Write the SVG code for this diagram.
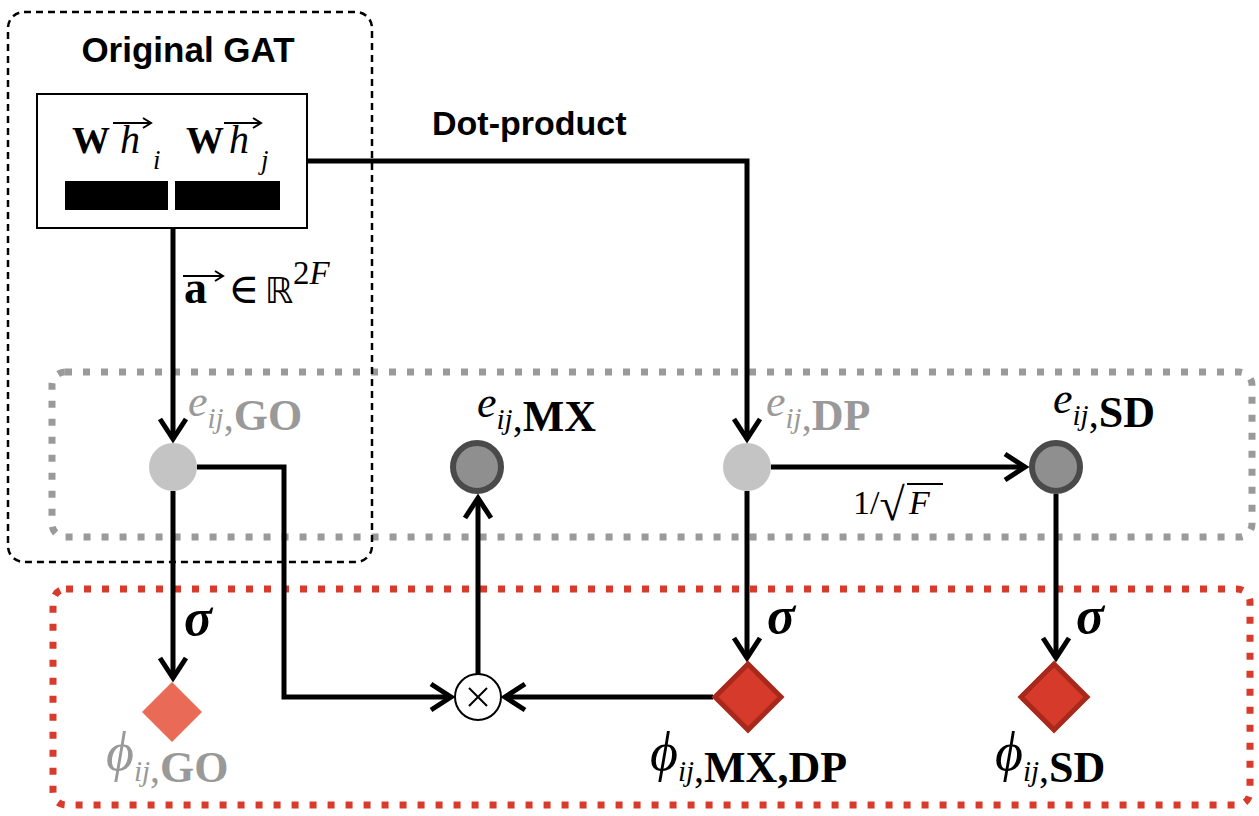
<svg xmlns="http://www.w3.org/2000/svg" width="1259" height="816" viewBox="0 0 1259 816">
<style>
.sans{font-family:"Liberation Sans",Arial,sans-serif;font-weight:bold}
.ser{font-family:"Liberation Serif","DejaVu Serif",serif}
.it{font-style:italic}
.bd{font-weight:bold}
.nb{font-weight:normal}
.conn{fill:none;stroke:#000;stroke-width:5}
.gray{fill:#999}
.blk{fill:#000}
</style>
<defs>
<marker id="ah" markerUnits="userSpaceOnUse" markerWidth="40" markerHeight="40" viewBox="-30 -20 40 40" refX="0" refY="0" orient="auto" overflow="visible">
<path d="M-20,-13 L0,0 L-20,13" fill="none" stroke="#000" stroke-width="5"/>
</marker>
</defs>
<rect width="1259" height="816" fill="#fff"/>

<g id="group-gray">
<rect x="52" y="372" width="1200" height="165" rx="13" fill="none" stroke="#9a9a9a" stroke-width="7" stroke-dasharray="7 11"/>
</g>
<g id="group-red">
<rect x="53" y="589" width="1197" height="216" rx="13" fill="none" stroke="#d83b2b" stroke-width="7" stroke-dasharray="7 11"/>
</g>
<g id="group-gat">
<rect x="8" y="12" width="364" height="550" rx="16" fill="none" stroke="#000" stroke-width="2.5" stroke-dasharray="7 5"/>
<text x="188" y="62" class="sans" font-size="35" text-anchor="middle">Original GAT</text>
</g>

<g id="input-box">
<rect x="37" y="94" width="270" height="134" fill="#fff" stroke="#000" stroke-width="2"/>
<text x="72" y="153" class="ser bd" font-size="38">W</text>
<text x="120" y="153" class="ser it" font-size="40">h</text>
<text x="153" y="169" class="ser it" font-size="27">i</text>
<line x1="113" y1="123" x2="150" y2="123" stroke="#000" stroke-width="2"/>
<path d="M143,118 L151,123 L143,128" fill="none" stroke="#000" stroke-width="2"/>
<text x="186" y="153" class="ser bd" font-size="38">W</text>
<text x="229" y="153" class="ser it" font-size="40">h</text>
<text x="261" y="169" class="ser it" font-size="27">j</text>
<line x1="224" y1="123" x2="260" y2="123" stroke="#000" stroke-width="2"/>
<path d="M253,118 L261,123 L253,128" fill="none" stroke="#000" stroke-width="2"/>
<rect x="65" y="181" width="103" height="29" fill="#000"/>
<rect x="175" y="181" width="105" height="29" fill="#000"/>
</g>

<g id="connectors">
<path class="conn" d="M173,228 V439" marker-end="url(#ah)"/>
<path class="conn" d="M307,161 H747 V439" marker-end="url(#ah)"/>
<path class="conn" d="M173,491 V678" marker-end="url(#ah)"/>
<path class="conn" d="M197,467 H284 V697 H451" marker-end="url(#ah)"/>
<path class="conn" d="M713,697 H505" marker-end="url(#ah)"/>
<path class="conn" d="M478,674 V498" marker-end="url(#ah)"/>
<path class="conn" d="M747,491 V658" marker-end="url(#ah)"/>
<path class="conn" d="M771,467 H1025" marker-end="url(#ah)"/>
<path class="conn" d="M1056,494 V658" marker-end="url(#ah)"/>
</g>

<g id="label-dot-product">
<text x="432" y="135" class="sans" font-size="34">Dot-product</text>
</g>
<g id="label-a">
<line x1="183" y1="276" x2="222" y2="276" stroke="#000" stroke-width="2"/>
<path d="M215,271 L223,276 L215,281" fill="none" stroke="#000" stroke-width="2"/>
<text x="184" y="303" class="ser bd" font-size="46">a</text>
<text x="228" y="303" class="ser" font-size="42">∈</text>
<text x="265" y="303" font-family="DejaVu Sans,sans-serif" font-size="36">ℝ</text>
<text x="293" y="284" class="ser" font-size="33">2<tspan class="it">F</tspan></text>
</g>
<g id="label-sqrt">
<text x="853" y="514" class="ser" font-size="34">1/<tspan font-size="46" dy="6">√</tspan></text>
<line x1="907" y1="484" x2="943" y2="484" stroke="#000" stroke-width="2"/>
<text x="909" y="514" class="ser it" font-size="34">F</text>
</g>

<g id="node-e-go">
<circle cx="173" cy="467" r="24" fill="#c4c4c4"/>
<text x="188" y="416" class="ser gray"><tspan class="it" font-size="44">e</tspan><tspan class="it" font-size="29" dy="12">ij</tspan><tspan class="nb" font-size="40" dy="2">,</tspan><tspan class="bd" font-size="44">GO</tspan></text>
</g>
<g id="node-e-mx">
<circle cx="477" cy="467" r="24" fill="#8f8f8f" stroke="#4a4a4a" stroke-width="6"/>
<text x="477" y="417" class="ser blk"><tspan class="it" font-size="44">e</tspan><tspan class="it" font-size="29" dy="12">ij</tspan><tspan class="nb" font-size="40" dy="2">,</tspan><tspan class="bd" font-size="44">MX</tspan></text>
</g>
<g id="node-e-dp">
<circle cx="747" cy="467" r="24" fill="#c4c4c4"/>
<text x="766" y="416" class="ser gray"><tspan class="it" font-size="44">e</tspan><tspan class="it" font-size="29" dy="12">ij</tspan><tspan class="nb" font-size="40" dy="2">,</tspan><tspan class="bd" font-size="44">DP</tspan></text>
</g>
<g id="node-e-sd">
<circle cx="1056" cy="467" r="24" fill="#8f8f8f" stroke="#4a4a4a" stroke-width="6"/>
<text x="1053" y="413" class="ser blk"><tspan class="it" font-size="44">e</tspan><tspan class="it" font-size="29" dy="12">ij</tspan><tspan class="nb" font-size="40" dy="2">,</tspan><tspan class="bd" font-size="44">SD</tspan></text>
</g>

<g id="node-otimes">
<circle cx="478" cy="697" r="23" fill="#fff" stroke="#000" stroke-width="2"/>
<path d="M469,688 L487,706 M487,688 L469,706" stroke="#000" stroke-width="2"/>
</g>

<g id="node-phi-go">
<path d="M172,682 L202,712 L172,742 L142,712 Z" fill="#e96b57"/>
<text x="106" y="770" class="ser gray"><tspan class="it" font-size="54">ϕ</tspan><tspan class="it" font-size="29" dy="11">ij</tspan><tspan class="nb" font-size="40" dy="1">,</tspan><tspan class="bd" font-size="44">GO</tspan></text>
</g>
<g id="node-phi-mxdp">
<path d="M748,664 L781,697 L748,730 L715,697 Z" fill="#d63a2a" stroke="#a8291b" stroke-width="5"/>
<text x="650" y="770" class="ser blk"><tspan class="it" font-size="54">ϕ</tspan><tspan class="it" font-size="29" dy="11">ij</tspan><tspan class="nb" font-size="40" dy="1">,</tspan><tspan class="bd" font-size="44">MX,DP</tspan></text>
</g>
<g id="node-phi-sd">
<path d="M1054,664 L1087,697 L1054,730 L1021,697 Z" fill="#d63a2a" stroke="#a8291b" stroke-width="5"/>
<text x="995" y="770" class="ser blk"><tspan class="it" font-size="54">ϕ</tspan><tspan class="it" font-size="29" dy="11">ij</tspan><tspan class="nb" font-size="40" dy="1">,</tspan><tspan class="bd" font-size="44">SD</tspan></text>
</g>

<g id="sigma-labels">
<text x="184" y="635" class="ser it bd" font-size="52">σ</text>
<text x="767" y="633" class="ser it bd" font-size="52">σ</text>
<text x="1076" y="633" class="ser it bd" font-size="52">σ</text>
</g>
</svg>
